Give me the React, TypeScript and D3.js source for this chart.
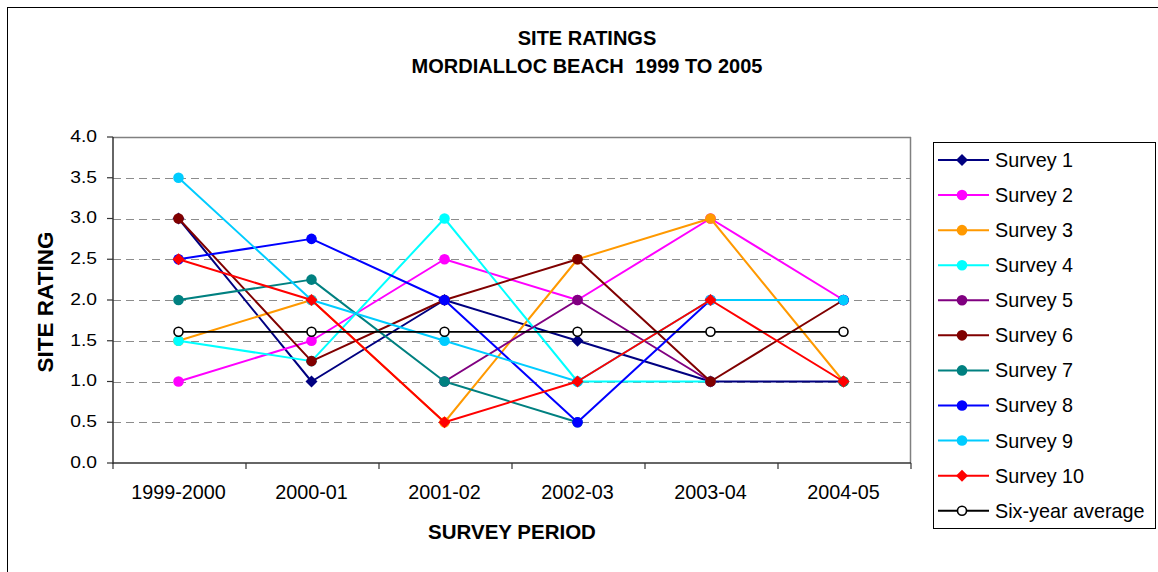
import * as d3 from 'd3';

const periods = ['1999-2000', '2000-01', '2001-02', '2002-03', '2003-04', '2004-05'];

// null = no survey that period (Excel leaves a gap)
const survey1 = [3.0, 1.0, 2.0, 1.5, 1.0, 1.0];
const survey2 = [1.0, 1.5, 2.5, 2.0, 3.0, 2.0];
const survey3 = [1.5, 2.0, 0.5, 2.5, 3.0, 1.0];
const survey4 = [1.5, 1.25, 3.0, 1.0, 1.0, null];
const survey5 = [null, null, 1.0, 2.0, 1.0, null];
const survey6 = [3.0, 1.25, 2.0, 2.5, 1.0, 2.0];
const survey7 = [2.0, 2.25, 1.0, 0.5, null, 1.0];
const survey8 = [2.5, 2.75, 2.0, 0.5, 2.0, 2.0];
const survey9 = [3.5, 2.0, 1.5, 1.0, 2.0, 2.0];
const survey10 = [2.5, 2.0, 0.5, 1.0, 2.0, 1.0];
const sixYearAverage = [1.61, 1.61, 1.61, 1.61, 1.61, 1.61];

const yTicks = [0, 0.5, 1, 1.5, 2, 2.5, 3, 3.5, 4];

type Marker = 'diamond' | 'circle' | 'hollow';

const series: { name: string; values: (number | null)[]; color: string; marker: Marker }[] = [
  { name: 'Survey 1', values: survey1, color: '#000080', marker: 'diamond' },
  { name: 'Survey 2', values: survey2, color: '#FF00FF', marker: 'circle' },
  { name: 'Survey 3', values: survey3, color: '#FF9900', marker: 'circle' },
  { name: 'Survey 4', values: survey4, color: '#00FFFF', marker: 'circle' },
  { name: 'Survey 5', values: survey5, color: '#800080', marker: 'circle' },
  { name: 'Survey 6', values: survey6, color: '#800000', marker: 'circle' },
  { name: 'Survey 7', values: survey7, color: '#008080', marker: 'circle' },
  { name: 'Survey 8', values: survey8, color: '#0000FF', marker: 'circle' },
  { name: 'Survey 9', values: survey9, color: '#00CCFF', marker: 'circle' },
  { name: 'Survey 10', values: survey10, color: '#FF0000', marker: 'diamond' },
  { name: 'Six-year average', values: sixYearAverage, color: '#000000', marker: 'hollow' },
];

const FONT = '"Liberation Sans", Arial, sans-serif';

const plot = { left: 113, right: 911, top: 137, bottom: 463 };

function MarkerShape({ kind, x, y, color }: { kind: Marker; x: number; y: number; color: string }) {
  if (kind === 'diamond') {
    const r = 6;
    return <path d={`M${x},${y - r}L${x + r},${y}L${x},${y + r}L${x - r},${y}Z`} fill={color} />;
  }
  if (kind === 'hollow') {
    return <circle cx={x} cy={y} r={4.5} fill="#fff" stroke={color} strokeWidth={1.6} />;
  }
  return <circle cx={x} cy={y} r={5.3} fill={color} />;
}

export default function App() {
  const x = d3.scaleBand<string>().domain(periods).range([plot.left, plot.right]);
  const y = d3.scaleLinear().domain([0, 4]).range([plot.bottom, plot.top]);
  const cx = (p: string) => (x(p) ?? 0) + x.bandwidth() / 2 - 1;

  const line = d3
    .line<number | null>()
    .defined((d) => d !== null)
    .x((_, i) => cx(periods[i]))
    .y((d) => y(d as number));

  const boundaries = [...periods.map((p) => x(p) ?? 0), plot.right];

  const legend = { left: 933, top: 142, width: 222, height: 386, row: 35.07, first: 160 };

  return (
    <svg
      width={1158}
      height={572}
      style={{ position: 'absolute', left: 0, top: 0, background: '#fff' }}
      fontFamily={FONT}
    >
      <rect x={7.5} y={7.5} width={1170} height={590} fill="#fff" stroke="#000" strokeWidth={1} />

      {/* title */}
      <text x={587} y={44.5} textAnchor="middle" fontSize={20} fontWeight="bold">
        SITE RATINGS
      </text>
      <text x={587} y={73.3} textAnchor="middle" fontSize={20} fontWeight="bold" style={{ whiteSpace: 'pre' }}>
        {'MORDIALLOC BEACH  1999 TO 2005'}
      </text>

      {/* grid */}
      {yTicks
        .filter((t) => t > 0 && t < 4)
        .map((t) => (
          <line
            key={t}
            x1={plot.left}
            x2={plot.right}
            y1={Math.round(y(t)) + 0.5}
            y2={Math.round(y(t)) + 0.5}
            stroke="#8c8c8c"
            strokeWidth={1}
            strokeDasharray="8,5"
          />
        ))}

      {/* plot frame */}
      <line x1={plot.left} x2={plot.right} y1={plot.top + 0.5} y2={plot.top + 0.5} stroke="#808080" strokeWidth={1.5} />
      <line x1={plot.right - 0.5} x2={plot.right - 0.5} y1={plot.top} y2={plot.bottom} stroke="#808080" strokeWidth={1.5} />
      <line x1={plot.left} x2={plot.left} y1={plot.top} y2={plot.bottom + 1} stroke="#333" strokeWidth={1.5} />
      <line x1={plot.left} x2={plot.right} y1={plot.bottom} y2={plot.bottom} stroke="#333" strokeWidth={1.5} />

      {/* y axis */}
      {yTicks.map((t) => (
        <g key={t}>
          <line x1={plot.left - 6} x2={plot.left} y1={y(t)} y2={y(t)} stroke="#333" strokeWidth={1.2} />
          <text
            transform={`translate(97,${y(t) + 4.8}) scale(1.17,1)`}
            textAnchor="end"
            fontSize={16.5}
            fill="#000"
          >
            {t.toFixed(1)}
          </text>
        </g>
      ))}

      {/* x axis */}
      {boundaries.map((b, i) => (
        <line key={i} x1={b} x2={b} y1={plot.bottom} y2={plot.bottom + 6} stroke="#333" strokeWidth={1.2} />
      ))}
      {periods.map((p) => (
        <text key={p} x={cx(p)} y={499} textAnchor="middle" fontSize={19.8}>
          {p}
        </text>
      ))}

      {/* axis titles */}
      <text
        transform={`translate(52.5,302) rotate(-90)`}
        textAnchor="middle"
        fontSize={22.5}
        fontWeight="bold"
      >
        SITE RATING
      </text>
      <text x={512} y={539} textAnchor="middle" fontSize={20.5} fontWeight="bold">
        SURVEY PERIOD
      </text>

      {/* series */}
      {series.map((s) => (
        <g key={s.name}>
          <path
            d={line(s.values) ?? ''}
            fill="none"
            stroke={s.color}
            strokeWidth={s.marker === 'hollow' ? 1.8 : 2}
            strokeLinejoin="round"
          />
          {s.values.map((v, i) =>
            v === null ? null : (
              <MarkerShape key={i} kind={s.marker} x={cx(periods[i])} y={y(v)} color={s.color} />
            )
          )}
        </g>
      ))}

      {/* legend */}
      <rect
        x={legend.left + 0.5}
        y={legend.top + 0.5}
        width={legend.width}
        height={legend.height}
        fill="#fff"
        stroke="#000"
        strokeWidth={1}
      />
      {series.map((s, i) => {
        const ly = legend.first + i * legend.row;
        return (
          <g key={s.name}>
            <line x1={938} x2={989} y1={ly} y2={ly} stroke={s.color} strokeWidth={2} />
            <MarkerShape kind={s.marker} x={962} y={ly} color={s.color} />
            <text x={995} y={ly + 7} fontSize={19.8}>
              {s.name}
            </text>
          </g>
        );
      })}
    </svg>
  );
}
